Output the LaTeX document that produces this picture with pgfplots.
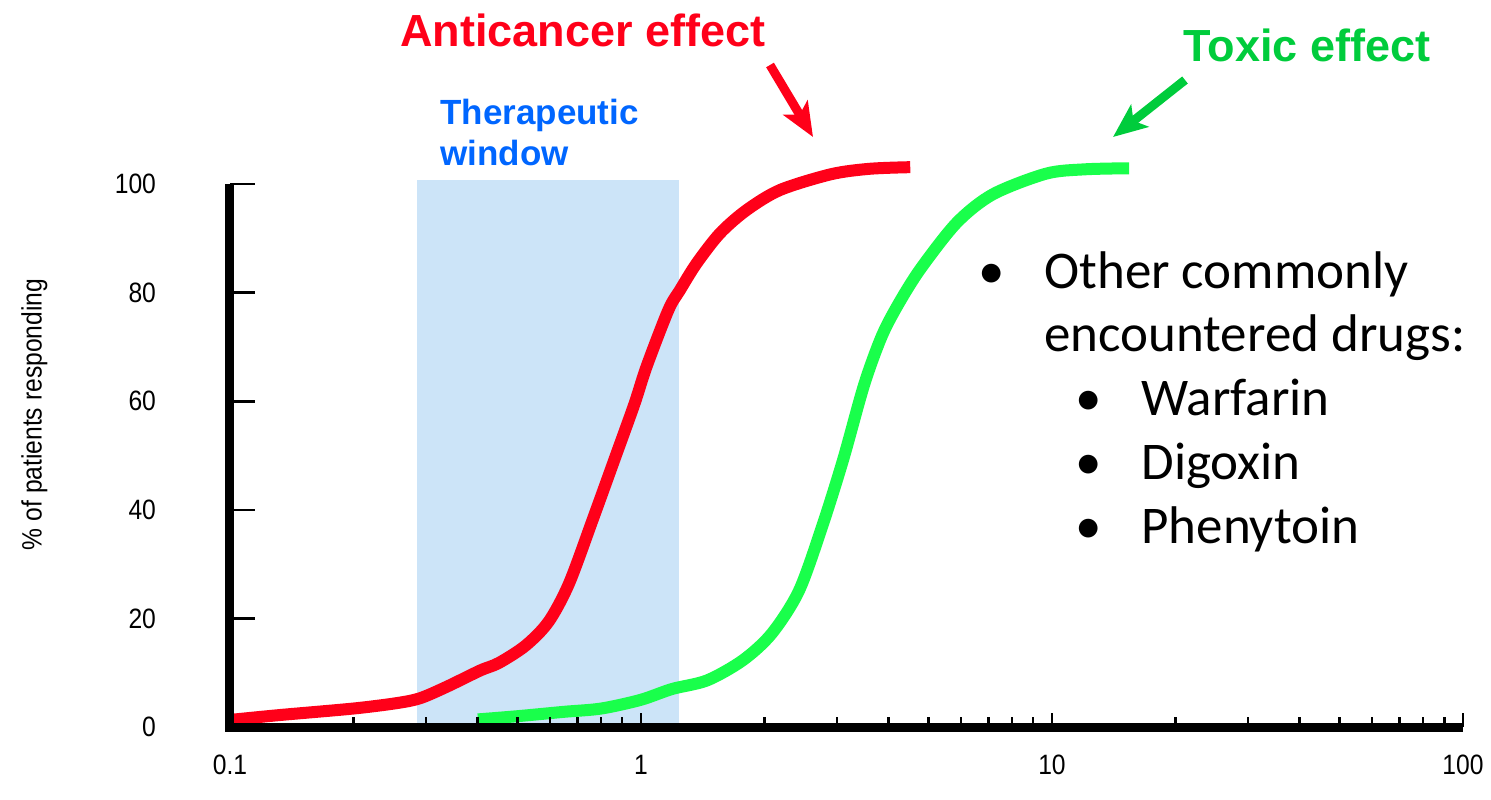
\documentclass[border=0pt]{standalone}
\usepackage{pgfplots}
\pgfplotsset{compat=1.18}
\usepackage{fontspec}
\setmainfont{Liberation Sans}
\newfontfamily\calibri{Carlito}
\newfontfamily\narrowfont[FakeStretch=0.88]{Liberation Sans}
\usetikzlibrary{arrows.meta}
\definecolor{redc}{RGB}{255,0,25}
\definecolor{greenc}{RGB}{25,255,75}
\definecolor{greent}{RGB}{0,204,60}
\definecolor{bluet}{RGB}{0,102,255}
\definecolor{bluefill}{RGB}{204,228,248}
\begin{document}
\begin{tikzpicture}
\begin{axis}[
  width=616.5pt, height=271.5pt, scale only axis,
  xmode=log, xmin=0.1, xmax=100, ymin=0, ymax=100,
  axis lines*=left,
  axis line style={line width=4.5pt, black},
  axis on top,
  clip=false,
  tick align=inside,
  xtick={0.1,1,10,100}, xticklabels={0.1,1,10,100},
  ytick={0,20,40,60,80,100},
  major tick length=7pt, minor tick length=5pt,
  every tick/.style={black, line width=1.3pt},
  ytick style={draw=none},
  tick label style={font=\narrowfont\fontsize{14pt}{16pt}\selectfont},
  /pgf/number format/assume math mode=true,
  xticklabel style={yshift=-10.5pt},
  yticklabel style={xshift=-33.5pt},
  ylabel={\% of patients responding},
  ylabel style={font=\narrowfont\fontsize{14pt}{16pt}\selectfont, at={(axis description cs:-0.1586,0.5755)}, anchor=center},
]
\addplot[fill=bluefill, draw=none] coordinates {(0.285,100.7) (1.237,100.7)} \closedcycle;
\pgfplotsinvokeforeach{20,40,60,80,100}{\draw[line width=1.3pt, black] (axis cs:0.1,#1) -- ([xshift=12.5pt]axis cs:0.1,#1);}
\addplot[redc, line width=6pt, smooth, tension=0.5] coordinates {
(0.100,1.3) (0.132,2.2) (0.1995,3.4) (0.2545,4.4) (0.29,5.3) (0.3365,7.4)
(0.406,10.4) (0.451,11.8) (0.524,15.0) (0.596,19.4) (0.668,26.4) (0.764,38.3)
(0.865,49.6) (0.964,59.5) (1.032,66.4) (1.166,76.8) (1.245,80.5) (1.366,85.4)
(1.556,90.9) (1.807,95.2) (2.18,98.9) (2.90,101.8) (3.60,102.8) (4.52,103.1)};
\addplot[greenc, line width=6pt, smooth, tension=0.5] coordinates {
(0.401,1.4) (0.502,2.0) (0.65,2.8) (0.80,3.4) (0.998,5.0) (1.19,7.0)
(1.45,8.6) (1.77,12.3) (2.08,17.2) (2.42,25.0) (2.75,36.6) (3.10,49.1)
(3.49,63.0) (3.86,72.1) (4.26,78.3) (4.81,84.6) (5.87,92.9) (7.18,98.1)
(9.67,101.9) (12.0,102.7) (15.4,102.9)};
\draw[line width=4.5pt, black, line join=miter] (axis cs:0.1,100) -- (axis cs:0.1,0) -- (axis cs:100,0);
\end{axis}
\begin{scope}[shift={(-115pt,363.5pt)}, x=0.5pt, y=-0.5pt]
\node[anchor=base, inner sep=0pt, text=redc, font=\bfseries\fontsize{22.5pt}{26pt}\selectfont] at (583,47) {Anticancer effect};
\node[anchor=base west, inner sep=0pt, text=bluet, font=\bfseries\fontsize{17.5pt}{20.5pt}\selectfont] at (440,125) {Therapeutic};
\node[anchor=base west, inner sep=0pt, text=bluet, font=\bfseries\fontsize{17.5pt}{20.5pt}\selectfont] at (440,166) {window};
\node[anchor=base, inner sep=0pt, text=greent, font=\bfseries\fontsize{22.5pt}{26pt}\selectfont] at (1307,62) {Toxic effect};
\draw[redc, line width=4.5pt, -{Stealth[length=17pt,width=14pt,inset=4pt]}] (770,65) -- (813,137);
\draw[greent, line width=4.5pt, -{Stealth[length=17pt,width=14pt,inset=4pt]}] (1185,80) -- (1113,137);
\begin{scope}[every node/.style={inner sep=0pt, anchor=base west, font=\calibri\fontsize{26.5pt}{31pt}\selectfont}]
\node[anchor=base] at (992,288) {\textbullet};
\node at (1044,288) {Other commonly};
\node at (1044,351) {encountered drugs:};
\node[anchor=base] at (1089,415) {\textbullet};
\node at (1141,415) {Warfarin};
\node[anchor=base] at (1089,479) {\textbullet};
\node at (1141,479) {Digoxin};
\node[anchor=base] at (1089,543) {\textbullet};
\node at (1141,543) {Phenytoin};
\end{scope}
\pgfresetboundingbox
\path[use as bounding box] (0,0) rectangle (1491,799);
\end{scope}
\end{tikzpicture}
\end{document}
